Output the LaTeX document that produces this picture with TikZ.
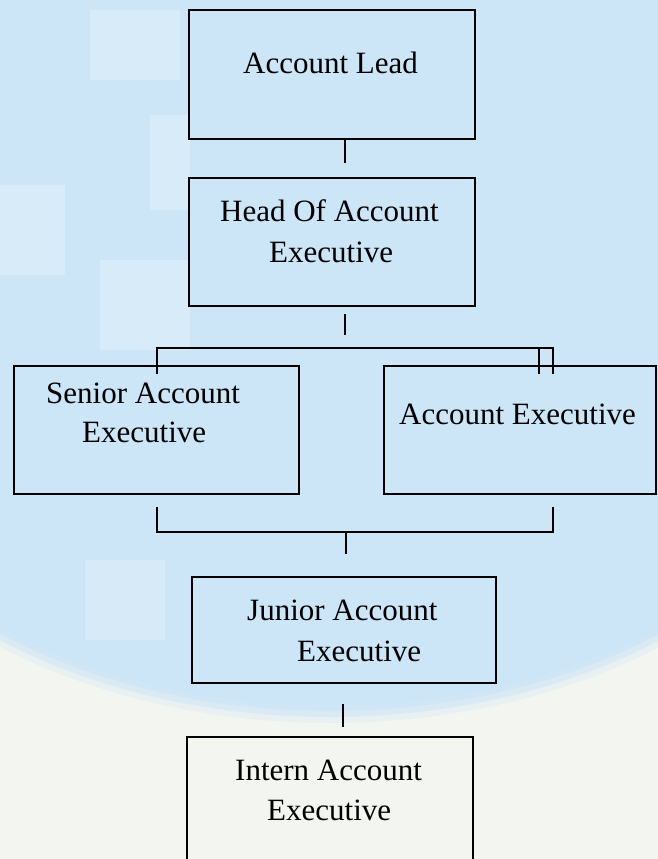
\documentclass[tikz,border=0pt]{standalone}
\usepackage{fontspec}
\setmainfont{Liberation Serif}
\definecolor{bgblue}{HTML}{CCE5F7}
\definecolor{bgpale}{HTML}{F3F5F1}
\tikzset{
  box/.style={draw=black, line width=2.6pt, rectangle, inner sep=0pt},
  lbl/.style={anchor=base west, inner sep=0pt, font=\fontsize{31}{40}\selectfont},
  conn/.style={draw=black, line width=1.3pt},
  brk/.style={draw=black, line width=2pt},
}
\begin{document}
\begin{tikzpicture}[x=1pt,y=-1pt]
\useasboundingbox (0,0) rectangle (658,859);
\clip (0,0) rectangle (658,859);
% background
\fill[bgpale] (0,0) rectangle (658,859);
\foreach \k/\op in {18/0.25,12/0.5,6/0.75,0/1}{
  \fill[bgblue, opacity=\op] (330,330) ellipse ({540+\k} and {375+\k});
}
\fill[bgblue] (0,0) rectangle (658,330);
\fill[white, opacity=0.25] (90,10) rectangle (180,80);
\fill[white, opacity=0.25] (150,115) rectangle (190,210);
\fill[white, opacity=0.25] (0,185) rectangle (65,275);
\fill[white, opacity=0.25] (100,260) rectangle (190,350);
\fill[white, opacity=0.2] (85,560) rectangle (165,640);
% boxes
\node[box, minimum width=286pt, minimum height=129pt] (al) at (332,74.5) {};
\node[box, minimum width=286pt, minimum height=128pt] (head) at (332,242) {};
\node[box, minimum width=285pt, minimum height=128pt] (senior) at (156.5,430) {};
\node[box, minimum width=272pt, minimum height=128pt] (ae) at (520,430) {};
\node[box, minimum width=304pt, minimum height=106pt] (junior) at (344,630) {};
\node[box, minimum width=286pt, minimum height=133pt] (intern) at (330,803.5) {};
% texts
\node[lbl] (tal) at (243,74) {Account Lead};
\node[lbl] (thead1) at (220,221) {Head Of Account};
\node[lbl] (thead2) at (269,262) {Executive};
\node[lbl] (tsen1) at (46,403) {Senior Account};
\node[lbl] (tsen2) at (82,442) {Executive};
\node[lbl] (tae) at (399,424) {Account Executive};
\node[lbl] (tjun1) at (247,620) {Junior Account};
\node[lbl] (tjun2) at (297,661) {Executive};
\node[lbl] (tint1) at (235,780) {Intern Account};
\node[lbl] (tint2) at (267,820) {Executive};
% connector coordinates
\coordinate (a1) at (345,139);
\coordinate (a2) at (345,163);
\coordinate (b1) at (345,314);
\coordinate (b2) at (345,335);
\coordinate (tl) at (157,348);
\coordinate (tr) at (553,348);
\coordinate (tm) at (539,348);
\coordinate (bl) at (157,532);
\coordinate (br) at (553,532);
\coordinate (d1) at (346,533);
\coordinate (d2) at (346,554);
\coordinate (e1) at (343,704);
\coordinate (e2) at (343,727);
% connectors
\draw[conn] (a1) -- (a2);
\draw[conn] (b1) -- (b2);
\draw[brk] (tl |- senior.north) ++(0,9) -- (tl) -- (tr) -- ++(0,26);
\draw[brk] (tm) -- ++(0,26);
\draw[brk] (bl) ++(0,-25) -- (bl) -- (br) -- ++(0,-25);
\draw[conn] (d1) -- (d2);
\draw[conn] (e1) -- (e2);
\end{tikzpicture}
\end{document}
